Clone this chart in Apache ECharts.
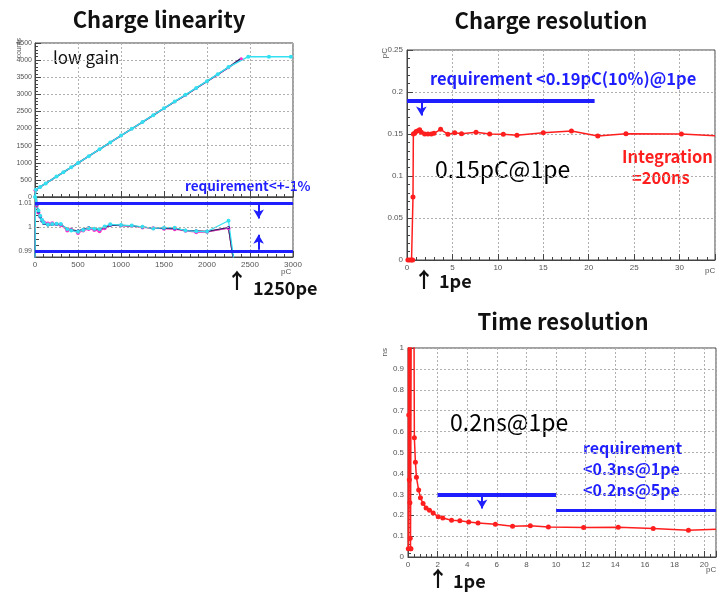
<!DOCTYPE html>
<html>
<head>
<meta charset="utf-8">
<script src="https://cdn.jsdelivr.net/npm/echarts@6/dist/echarts.min.js"></script>
<style>
html, body { margin: 0; padding: 0; background: #fff; }
#chart { width: 727px; height: 592px; }
</style>
</head>
<body>
<div id="chart"></div>
<script>
// ---- charge linearity (low gain), counts vs pC ----
const linX = [0, 10, 60, 125, 250, 330, 420, 500, 625, 750, 875, 1000, 1125, 1250, 1375, 1500, 1625, 1750, 1875, 2000, 2125, 2250, 2480, 2720, 2975]
const linCyan = [0, 212, 295, 398, 597, 724, 866, 992, 1193, 1392, 1595, 1794, 1993, 2192, 2390, 2590, 2791, 2986, 3186, 3384, 3590, 3797, 4100, 4100, 4100]
const linMagentaX = [0, 10, 60, 125, 250, 330, 420, 500, 625, 750, 875, 1000, 1125, 1250, 1375, 1500, 1625, 1750, 1875, 2000, 2125, 2250, 2400]
const linMagenta = [200, 212, 294, 397, 596, 724, 864, 990, 1191, 1390, 1594, 1793, 1992, 2190, 2389, 2586, 2784, 2975, 3175, 3372, 3575, 3775, 4040]
const linNavy = [0, 210, 293, 396, 596, 723, 865, 991, 1192, 1391, 1594, 1793, 1992, 2191, 2389, 2588, 2787, 2980, 3180, 3378, 3580, 3785, 4055]

// ---- ratio panel ----
const ratioX = [0, 8, 20, 40, 60, 80, 100, 150, 200, 250, 300, 375, 420, 500, 560, 625, 690, 750, 810, 875, 1000, 1125, 1250, 1375, 1500, 1625, 1750, 1875, 2000, 2250, 2375]
const ratioCyan = [0.98, 1.02, 1.0097, 1.0069, 1.0047, 1.003, 1.0019, 1.001, 1.0012, 1.0014, 1.0012, 0.9992, 0.9985, 0.998, 0.9988, 0.9995, 0.9993, 0.9992, 1.0002, 1.0011, 1.0008, 1.0006, 1.0001, 0.9994, 0.9997, 0.9997, 0.9985, 0.9982, 0.9981, 1.0026, 0.97]
const ratioMagenta = [0.98, 1.02, 1.009, 1.006, 1.0045, 1.0028, 1.002, 1.0015, 1.0016, 1.0012, 1.0008, 0.9985, 0.999, 0.9975, 0.9985, 0.9992, 0.9988, 0.9982, 0.9995, 1.0008, 1.0006, 1.0004, 0.9998, 0.9995, 0.9993, 0.9991, 0.9984, 0.9978, 0.998, 0.9995, 0.97]
const ratioNavy = [0.98, 1.02, 1.0092, 1.0063, 1.0042, 1.0025, 1.0015, 1.0008, 1.001, 1.0011, 1.001, 0.9993, 0.9988, 0.9984, 0.999, 0.9998, 0.9992, 0.999, 0.9999, 1.0007, 1.0007, 1.0005, 1.0, 0.9995, 0.9994, 0.9993, 0.9986, 0.9984, 0.9982, 0.9998, 0.97]
const ratioGreen = [0.98, 1.02, 1.0094, 1.0066, 1.0044, 1.0027, 1.0017, 1.0011, 1.0013, 1.0012, 1.0009, 0.999, 0.9989, 0.9982, 0.9989, 0.9996, 0.9991, 0.9988, 0.9998, 1.0008, 1.0007, 1.0005, 0.9999, 0.9995, 0.9995, 0.9994, 0.9986, 0.9982, 0.998, 0.9996, 0.97]

// ---- charge resolution, pC vs pC ----
const chargeX = [0.1, 0.3, 0.5, 0.62, 0.66, 0.7, 0.84, 1.0, 1.21, 1.39, 1.58, 1.94, 2.3, 2.68, 2.97, 3.7, 4.5, 5.25, 6.0, 7.6, 9.1, 10.6, 12.1, 15.0, 18.1, 21.0, 24.1, 30.2, 33.9]
const chargeRes = [0, 0, 0, 0, 0.075, 0.15, 0.1508, 0.153, 0.154, 0.155, 0.152, 0.150, 0.150, 0.150, 0.1508, 0.1556, 0.1496, 0.1516, 0.1504, 0.152, 0.150, 0.1496, 0.1484, 0.1516, 0.1536, 0.1476, 0.1504, 0.150, 0.148]

// ---- time resolution, ns vs pC ----
const timeX = [0.02, 0.03, 0.05, 0.07, 0.09, 0.11, 0.13, 0.15, 0.17, 0.2, 0.22, 0.4, 0.43, 0.5, 0.57, 0.72, 0.84, 1.02, 1.22, 1.45, 1.7, 2.04, 2.35, 2.94, 3.5, 4.1, 4.73, 5.9, 7.06, 8.26, 9.48, 11.86, 14.2, 16.56, 18.94, 20.8]
const timeRes = [0.04, 1.2, 0.68, 1.2, 0.37, 1.2, 0.26, 0.09, 0.04, 0.04, 1.2, 1.2, 0.571, 0.453, 0.381, 0.32, 0.283, 0.256, 0.235, 0.224, 0.211, 0.192, 0.187, 0.176, 0.174, 0.168, 0.163, 0.157, 0.147, 0.149, 0.144, 0.141, 0.142, 0.136, 0.128, 0.133]

// requirement levels
const ratioReq = [0.99, 1.01]
const chargeReq = 0.19
const timeReq = [0.3, 0.225]

const BLUE = '#1e1eff'
const RED = '#ff1e1e'
const JP = '"Noto Sans CJK JP", "Noto Sans", sans-serif'
const LBL = { fontSize: 8, color: '#555', margin: 4, fontFamily: 'Liberation Sans', showMaxLabel: false, formatter: v => String(v) }

function zip (xs, ys) {
    return xs.map((x, i) => [x, ys[i]])
}

function axis (grid, min, max, interval, extra) {
    return Object.assign({
        type: 'value',
        gridIndex: grid,
        min: min,
        max: max,
        interval: interval,
        axisLine: { show: true, onZero: false, lineStyle: { color: '#444', width: 1 } },
        axisTick: { show: true, inside: true, length: 6, lineStyle: { color: '#444' } },
        minorTick: { show: true, splitNumber: 5, length: 3, lineStyle: { color: '#444' } },
        splitLine: { show: true, lineStyle: { color: '#b0b0b0', type: [2, 2], width: 1 } },
        axisLabel: LBL
    }, extra || {})
}

function reqLine (x1, y1, x2, y2, w) {
    return [
        { coord: [x1, y1], lineStyle: { color: BLUE, width: w, type: 'solid' } },
        { coord: [x2, y2] }
    ]
}

function txt (x, y, s, font, fill, align) {
    return { type: 'text', x: x, y: y, style: { text: s, font: font, fill: fill, textAlign: align || 'left', textVerticalAlign: 'middle' } }
}

const chart = echarts.init(document.getElementById('chart'))

chart.setOption({
    animation: false,
    backgroundColor: '#fff',
    grid: [
        { left: 35, top: 43, width: 258, height: 154, show: true, borderColor: '#444', borderWidth: 1 },
        { left: 35, top: 197, width: 258, height: 60, show: true, borderColor: '#444', borderWidth: 1 },
        { left: 407, top: 50, width: 308, height: 210, show: true, borderColor: '#444', borderWidth: 1 },
        { left: 408, top: 348, width: 308, height: 209, show: true, borderColor: '#444', borderWidth: 1 }
    ],
    xAxis: [
        axis(0, 0, 3000, 500, { axisLabel: { show: false } }),
        axis(1, 0, 3000, 500, { axisLabel: Object.assign({}, LBL, { showMaxLabel: true }) }),
        axis(2, 0, 33.9, 5),
        axis(3, 0, 20.8, 2)
    ],
    yAxis: [
        axis(0, 0, 4500, 500, { axisLabel: Object.assign({}, LBL, { fontSize: 7, margin: 3, showMaxLabel: true }) }),
        axis(1, 0.9875, 1.0125, 0.0025, {
            minorTick: { show: false },
            splitLine: { show: false },
            axisTick: { show: true, inside: true, length: 4, lineStyle: { color: '#444' } },
            axisLabel: {
                fontSize: 7, color: '#555', margin: 3, fontFamily: 'Liberation Sans',
                formatter: function (v) {
                    if (Math.abs(v - 0.99) < 1e-6) return '0.99'
                    if (Math.abs(v - 1) < 1e-6) return '1'
                    if (Math.abs(v - 1.01) < 1e-6) return '1.01'
                    return ''
                }
            }
        }),
        axis(2, 0, 0.25, 0.05, { axisLabel: Object.assign({}, LBL, { showMaxLabel: true }) }),
        axis(3, 0, 1, 0.1, { axisLabel: Object.assign({}, LBL, { showMaxLabel: true }) })
    ],
    series: [
        // linearity
        {
            type: 'line', xAxisIndex: 0, yAxisIndex: 0, data: zip(linMagentaX, linMagenta),
            symbol: 'circle', symbolSize: 3, itemStyle: { color: '#ff33cc' }, lineStyle: { color: '#ff33cc', width: 1.2 }
        },
        {
            type: 'line', xAxisIndex: 0, yAxisIndex: 0, data: zip(linMagentaX, linNavy),
            symbol: 'none', lineStyle: { color: '#3a1a6a', width: 1.5 }
        },
        {
            type: 'line', xAxisIndex: 0, yAxisIndex: 0, data: zip(linX, linCyan),
            symbol: 'circle', symbolSize: 4, itemStyle: { color: '#33e0f0' }, lineStyle: { color: '#33e0f0', width: 1.5 }
        },
        // ratio
        {
            type: 'line', xAxisIndex: 1, yAxisIndex: 1, data: zip(ratioX, ratioGreen),
            symbol: 'none', lineStyle: { color: '#33cc33', width: 1.2 },
            markLine: {
                silent: true, symbol: ['none', 'none'], label: { show: false },
                data: [
                    [{ coord: [0, 1], lineStyle: { color: '#b0b0b0', width: 1, type: [2, 2] } }, { coord: [3000, 1] }]
                ]
            }
        },
        {
            type: 'line', xAxisIndex: 1, yAxisIndex: 1, data: zip(ratioX, ratioMagenta),
            symbol: 'circle', symbolSize: 4, itemStyle: { color: '#ff33cc' }, lineStyle: { color: '#ff33cc', width: 1.2 }
        },
        {
            type: 'line', xAxisIndex: 1, yAxisIndex: 1, data: zip(ratioX, ratioNavy),
            symbol: 'circle', symbolSize: 3, itemStyle: { color: '#2a2aa0' }, lineStyle: { color: '#3a1a6a', width: 1.2 }
        },
        {
            type: 'line', xAxisIndex: 1, yAxisIndex: 1, data: zip(ratioX, ratioCyan),
            symbol: 'circle', symbolSize: 4, itemStyle: { color: '#33e0f0' }, lineStyle: { color: '#33e0f0', width: 1.2 },
            markLine: {
                silent: true, symbol: ['none', 'none'], label: { show: false },
                data: [
                    reqLine(0, ratioReq[1], 3000, ratioReq[1], 3),
                    reqLine(0, ratioReq[0], 3000, ratioReq[0], 3)
                ]
            }
        },
        {
            type: 'line', xAxisIndex: 1, yAxisIndex: 1, data: [],
            markLine: {
                silent: true, symbol: ['none', 'arrow'], symbolSize: [8, 9], label: { show: false },
                data: [
                    reqLine(2600, 1.0095, 2600, 1.0035, 2),
                    reqLine(2600, 0.9905, 2600, 0.9968, 2)
                ]
            }
        },
        // charge resolution
        {
            type: 'line', xAxisIndex: 2, yAxisIndex: 2,
            data: chargeX.map((x, i) => i === chargeX.length - 1 ? { value: [x, chargeRes[i]], symbolSize: 0 } : [x, chargeRes[i]]),
            symbol: 'circle', symbolSize: 5, itemStyle: { color: RED }, lineStyle: { color: RED, width: 1.5 },
            markLine: {
                silent: true, symbol: ['none', 'none'], label: { show: false },
                data: [reqLine(0, chargeReq, 20.65, chargeReq, 4)]
            }
        },
        {
            type: 'line', xAxisIndex: 2, yAxisIndex: 2, data: [],
            markLine: {
                silent: true, symbol: ['none', 'arrow'], symbolSize: [8, 9], label: { show: false },
                data: [reqLine(1.58, 0.188, 1.58, 0.172, 2)]
            }
        },
        // time resolution
        {
            type: 'line', xAxisIndex: 3, yAxisIndex: 3,
            data: timeX.map((x, i) => i === timeX.length - 1 ? { value: [x, timeRes[i]], symbolSize: 0 } : [x, timeRes[i]]),
            symbol: 'circle', symbolSize: 5, itemStyle: { color: RED }, lineStyle: { color: RED, width: 1.5 },
            markLine: {
                silent: true, symbol: ['none', 'none'], label: { show: false },
                data: [
                    reqLine(2, timeReq[0], 10, timeReq[0], 4),
                    reqLine(10, timeReq[1], 20.8, timeReq[1], 3)
                ]
            }
        },
        {
            type: 'line', xAxisIndex: 3, yAxisIndex: 3, data: [],
            markLine: {
                silent: true, symbol: ['none', 'arrow'], symbolSize: [8, 9], label: { show: false },
                data: [reqLine(5, 0.297, 5, 0.232, 2)]
            }
        }
    ],
    graphic: [
        txt(159, 20, 'Charge linearity', 'bold 22px ' + JP, '#111', 'center'),
        txt(551, 21, 'Charge resolution', 'bold 22px ' + JP, '#111', 'center'),
        txt(563, 322, 'Time resolution', 'bold 22px ' + JP, '#111', 'center'),

        txt(53, 58, 'low gain', '17px ' + JP, '#111'),
        txt(185, 186, 'requirement<+-1%', 'bold 13.5px ' + JP, BLUE),
        txt(237, 280, '↑', 'bold 21px ' + JP, '#111', 'center'),
        txt(253, 288, '1250pe', 'bold 18px ' + JP, '#111'),

        txt(430, 79, 'requirement <0.19pC(10%)@1pe', 'bold 16.5px ' + JP, BLUE),
        txt(435, 169, '0.15pC@1pe', '23px ' + JP, '#000'),
        txt(622, 157, 'Integration', 'bold 16.5px ' + JP, RED),
        txt(632, 178, '=200ns', 'bold 16.5px ' + JP, RED),
        txt(424, 279, '↑', 'bold 21px ' + JP, '#111', 'center'),
        txt(439, 281, '1pe', 'bold 18px ' + JP, '#111'),

        txt(450, 422, '0.2ns@1pe', '23px ' + JP, '#000'),
        txt(583, 448, 'requirement', 'bold 16px ' + JP, BLUE),
        txt(583, 469, '<0.3ns@1pe', 'bold 16px ' + JP, BLUE),
        txt(583, 490, '<0.2ns@5pe', 'bold 16px ' + JP, BLUE),
        txt(438, 578, '↑', 'bold 21px ' + JP, '#111', 'center'),
        txt(453, 581, '1pe', 'bold 18px ' + JP, '#111'),

        { type: 'text', left: 16, top: 38, rotation: Math.PI / 2, style: { text: 'counts', font: '7px Liberation Sans', fill: '#555' } },
        { type: 'text', left: 281, top: 268, style: { text: 'pC', font: '8px Liberation Sans', fill: '#555' } },
        { type: 'text', left: 381, top: 48, rotation: Math.PI / 2, style: { text: 'pC', font: '8px Liberation Sans', fill: '#555' } },
        { type: 'text', left: 705, top: 267, style: { text: 'pC', font: '8px Liberation Sans', fill: '#555' } },
        { type: 'text', left: 381, top: 348, rotation: Math.PI / 2, style: { text: 'ns', font: '8px Liberation Sans', fill: '#555' } },
        { type: 'text', left: 706, top: 566, style: { text: 'pC', font: '8px Liberation Sans', fill: '#555' } }
    ]
})
</script>
</body>
</html>
